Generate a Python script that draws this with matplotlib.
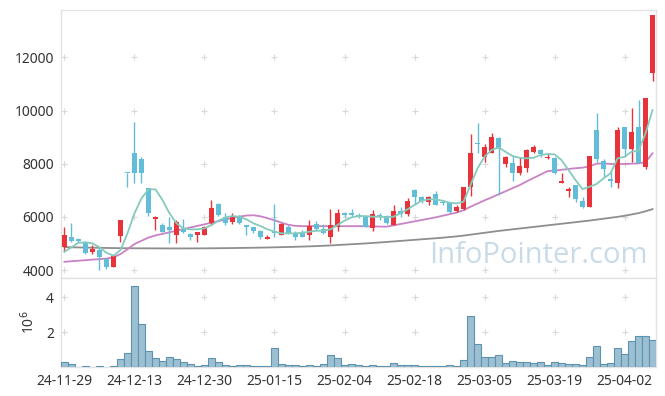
import numpy as np
import matplotlib
matplotlib.use('Agg')
import matplotlib.pyplot as plt

# tick labels (every 10th trading day)
tick_labels = ['24-11-29', '24-12-13', '24-12-30', '25-01-15', '25-02-04',
               '25-02-18', '25-03-05', '25-03-19', '25-04-02']

# OHLC
opens = [4853, 5252, 5177, 5026, 4688, 4752, 4414, 4125, 5290, 7660,
         8410, 8160, 7072, 5906, 5692, 5605, 5316, 5530, 5354, 5316,
         5316, 5778, 6482, 5980, 5816, 5980, 5692, 5628, 5478, 5177,
         5478, 5316, 5628, 5380, 5440, 5316, 5730, 5554, 5230, 5605,
         6132, 6155, 6068, 6004, 5568, 6068, 6030, 5692, 6230, 6105,
         7008, 6733, 6568, 6858, 6568, 6508, 6230, 6282, 7132, 8760,
         8238, 8410, 8952, 7986, 8010, 7658, 7824, 8448, 8512, 8200,
         8200, 7282, 6980, 7184, 6594, 6380, 9264, 8110, 7410, 7282,
         9388, 8538, 9388, 7862, 11396]
highs = [5628, 5756, 5203, 5090, 4940, 4876, 4440, 4560, 5880, 7660,
         9553, 8270, 7072, 6030, 5756, 6004, 5880, 5906, 5380, 5440,
         5660, 6632, 6530, 6140, 6140, 6060, 5692, 5628, 5500, 5316,
         6482, 5756, 5692, 5478, 5504, 5880, 5856, 5730, 6282, 6282,
         6200, 6282, 6155, 6030, 6240, 6132, 6068, 6444, 6380, 6695,
         7034, 6790, 6790, 6983, 6644, 6568, 6444, 7132, 9114, 9538,
         8738, 9140, 8990, 8286, 8324, 8260, 8538, 8700, 8538, 8410,
         8260, 7636, 7130, 7184, 6733, 8286, 9914, 8160, 7760, 9388,
         9388, 10080, 10380, 10456, 13588]
lows = [4688, 5065, 5065, 4602, 4602, 4010, 4050, 4125, 5040, 7110,
        7282, 7282, 6030, 5504, 5418, 5026, 5003, 5403, 5128, 5065,
        5316, 5692, 6030, 5680, 5740, 5740, 5316, 5400, 5180, 5150,
        5230, 5316, 5354, 5128, 5252, 5128, 5480, 5354, 5026, 5479,
        5980, 6030, 5940, 5605, 5478, 5880, 5730, 5692, 5980, 6030,
        6482, 6530, 6444, 6444, 6450, 6132, 6192, 6256, 6782, 8386,
        8072, 8386, 6820, 7860, 7358, 7572, 7696, 8410, 8260, 8162,
        7610, 7260, 6733, 6570, 6320, 6356, 8072, 7508, 7132, 7072,
        8260, 8072, 8034, 7786, 11118]
closes = [5316, 5102, 5090, 4650, 4778, 4500, 4125, 4526, 5880, 7640,
          7636, 7636, 6132, 6004, 5440, 5504, 5816, 5440, 5252, 5429,
          5628, 6320, 6068, 5778, 5980, 5778, 5605, 5478, 5230, 5252,
          5380, 5730, 5380, 5230, 5252, 5654, 5554, 5380, 5692, 6132,
          6068, 6080, 5980, 5605, 6105, 6030, 5756, 6230, 6105, 6606,
          6733, 6606, 6733, 6444, 6508, 6192, 6380, 7110, 8410, 8738,
          8636, 8990, 8538, 8260, 7658, 7910, 8512, 8636, 8362, 8260,
          7636, 7346, 7056, 6658, 6380, 8286, 8162, 7786, 7360, 9264,
          8538, 9200, 8034, 10456, 13588]

# volume in millions
volume_m = [0.29, 0.17, 0.02, 0.06, 0.02, 0.06, 0.02, 0.06, 0.46, 0.80,
            4.65, 2.46, 0.91, 0.51, 0.36, 0.57, 0.46, 0.30, 0.17, 0.06,
            0.11, 0.51, 0.29, 0.11, 0.06, 0.11, 0.11, 0.06, 0.06, 0.06,
            1.09, 0.17, 0.11, 0.11, 0.03, 0.11, 0.06, 0.17, 0.69, 0.51,
            0.11, 0.17, 0.11, 0.06, 0.11, 0.06, 0.06, 0.23, 0.11, 0.11,
            0.11, 0.06, 0.06, 0.06, 0.06, 0.11, 0.06, 0.40, 2.91, 1.31,
            0.57, 0.57, 0.69, 0.23, 0.34, 0.29, 0.29, 0.23, 0.29, 0.11,
            0.29, 0.23, 0.17, 0.17, 0.11, 0.57, 1.20, 0.17, 0.23, 1.09,
            0.74, 1.49, 1.77, 1.77, 1.54]

# moving average lines
ma5 = [4690, 4853, 5026, 5040, 5003, 4853, 4650, 4538, 4752, 5380,
       6132, 6695, 7034, 7034, 6632, 6132, 5756, 5568, 5530, 5530,
       5568, 5692, 5855, 5980, 6030, 6004, 5906, 5756, 5654, 5530,
       5440, 5380, 5380, 5380, 5403, 5440, 5478, 5478, 5530, 5692,
       5855, 5980, 6030, 6030, 6004, 6004, 5980, 6004, 6132, 6282,
       6444, 6606, 6658, 6658, 6606, 6532, 6506, 6568, 7196, 7824,
       8260, 8512, 8612, 8448, 8286, 8222, 8200, 8222, 8324, 8362,
       8350, 8136, 7760, 7384, 7046, 7132, 7234, 7448, 7636, 8200,
       8260, 8448, 8486, 9140, 10016]
ma20 = [4310, 4330, 4350, 4370, 4390, 4410, 4430, 4480, 4600, 4780,
        4980, 5100, 5220, 5300, 5360, 5420, 5480, 5540, 5600, 5660,
        5720, 5780, 5840, 5900, 5960, 6010, 6050, 6060, 6020, 5950,
        5870, 5780, 5700, 5660, 5650, 5650, 5650, 5650, 5650, 5650,
        5650, 5650, 5650, 5645, 5640, 5635, 5630, 5680, 5730, 5780,
        5830, 5880, 5930, 5980, 6040, 6100, 6160, 6250, 6380, 6500,
        6620, 6730, 6850, 6960, 7080, 7190, 7330, 7460, 7590, 7720,
        7740, 7770, 7800, 7830, 7850, 7900, 8000, 8010, 7990, 7980,
        7990, 8000, 8010, 8060, 8390]
ma60 = [4860, 4855, 4850, 4845, 4840, 4835, 4830, 4825, 4822, 4820,
        4818, 4816, 4815, 4814, 4813, 4812, 4812, 4812, 4813, 4814,
        4816, 4818, 4820, 4823, 4826, 4830, 4834, 4838, 4843, 4848,
        4854, 4860, 4867, 4874, 4882, 4890, 4900, 4912, 4925, 4940,
        4955, 4970, 4985, 5000, 5018, 5036, 5055, 5075, 5095, 5115,
        5135, 5155, 5175, 5195, 5215, 5240, 5265, 5295, 5330, 5365,
        5400, 5435, 5470, 5500, 5530, 5560, 5590, 5620, 5650, 5680,
        5710, 5740, 5770, 5800, 5830, 5860, 5895, 5930, 5965, 6000,
        6040, 6090, 6140, 6210, 6290]

RED = '#e8333b'
BLUE = '#62bdd8'
GRID = '#d9d9d9'
SPINE = '#e3e3e3'
TXT = '#333333'

plt.rcParams['font.family'] = ['Noto Sans', 'DejaVu Sans']

fig = plt.figure(figsize=(6.65, 3.96), dpi=100)
ax = fig.add_axes([0.0917, 0.298, 0.8948, 0.6767])
axv = fig.add_axes([0.0917, 0.0732, 0.8948, 0.2248], sharex=ax)

o = np.array(opens); h = np.array(highs); l = np.array(lows); c = np.array(closes)
x = np.arange(len(o))
up = c >= o
col = np.where(up, RED, BLUE)

# candles
ax.vlines(x, l, h, colors=col, linewidth=1.0, zorder=3)
body_lo = np.minimum(o, c)
body_h = np.maximum(np.abs(c - o), 40)
ax.bar(x, body_h, bottom=body_lo, width=0.78, color=col, linewidth=0, zorder=4)

# moving averages
ax.plot(x, ma60, color='#8e8e8e', linewidth=1.3, zorder=2)
ax.plot(x, ma20, color='#c982c4', linewidth=1.3, zorder=2)
ax.plot(x, ma5, color='#85cbbd', linewidth=1.3, zorder=5)

ax.text(0.803, 0.085, 'InfoPointer.com', transform=ax.transAxes,
        fontsize=21, color='#c8dbe7', ha='center', va='center',
        family=['Open Sans', 'DejaVu Sans'], zorder=1)

# volume
axv.bar(x, volume_m, width=1.0, color='#9cc0d2', edgecolor='#5d93b0',
        linewidth=0.8, zorder=3)

tick_pos = np.arange(0, len(x), 10)
ax.set_xlim(-0.5, len(x) - 0.5)
ax.set_ylim(3700, 13780)
ax.set_yticks([4000, 6000, 8000, 10000, 12000])
axv.set_ylim(0, 5.1)
axv.set_yticks([2, 4])
axv.set_xticks(tick_pos)
axv.set_xticklabels(tick_labels)
ax.tick_params(axis='x', labelbottom=False)
axv.set_ylabel('10$^6$', fontsize=10, color=TXT, labelpad=6)

for a in (ax, axv):
    a.tick_params(length=0, labelsize=10, labelcolor=TXT, pad=5)
    for s in a.spines.values():
        s.set_color(SPINE)
        s.set_linewidth(1.0)
    # "+" grid marks at tick crossings
    gx, gy = np.meshgrid(tick_pos, a.get_yticks())
    a.plot(gx.ravel(), gy.ravel(), '+', color=GRID, markersize=5,
           markeredgewidth=0.8, zorder=0)

fig.savefig('out.png', dpi=100)
